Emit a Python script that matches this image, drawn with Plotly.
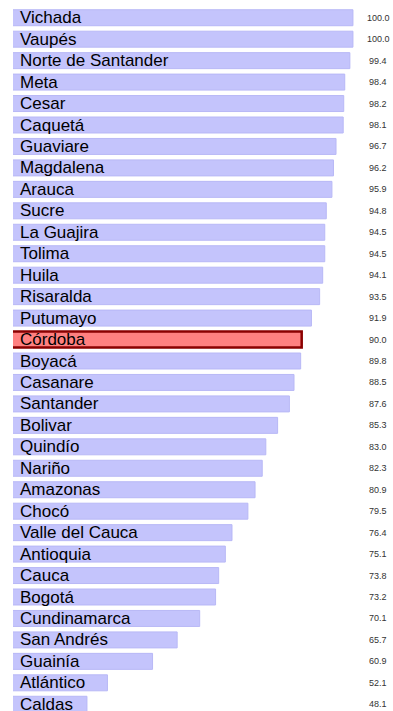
import plotly.graph_objects as go

departamentos = [
    "Vichada", "Vaupés", "Norte de Santander", "Meta", "Cesar", "Caquetá",
    "Guaviare", "Magdalena", "Arauca", "Sucre", "La Guajira", "Tolima",
    "Huila", "Risaralda", "Putumayo", "Córdoba", "Boyacá", "Casanare",
    "Santander", "Bolivar", "Quindío", "Nariño", "Amazonas", "Chocó",
    "Valle del Cauca", "Antioquia", "Cauca", "Bogotá", "Cundinamarca",
    "San Andrés", "Guainía", "Atlántico", "Caldas",
]
valores = [
    100.0, 100.0, 99.4, 98.4, 98.2, 98.1,
    96.7, 96.2, 95.9, 94.8, 94.5, 94.5,
    94.1, 93.5, 91.9, 90.0, 89.8, 88.5,
    87.6, 85.3, 83.0, 82.3, 80.9, 79.5,
    76.4, 75.1, 73.8, 73.2, 70.1,
    65.7, 60.9, 52.1, 48.1,
]
destacado = "Córdoba"

W, H = 393, 720
ML, MR, MT, MB = 13, 0, 7, 5
x_min = min(valores) * 0.7
px_per_unit = 5.125
x_max = x_min + (W - ML - MR) / px_per_unit

fill = ["#ff8080" if d == destacado else "#c4c4fc" for d in departamentos]
edge = ["#8b0000" if d == destacado else "#b8b8f6" for d in departamentos]
edge_w = [2.5 if d == destacado else 1 for d in departamentos]

fig = go.Figure(go.Bar(
    x=valores,
    y=departamentos,
    orientation="h",
    width=0.745,
    marker=dict(color=fill, line=dict(color=edge, width=edge_w)),
    hoverinfo="skip",
))

annotations = []
for d, v in zip(departamentos, valores):
    annotations.append(dict(
        x=x_min, y=d, xref="x", yref="y", text=d, showarrow=False,
        xanchor="left", xshift=5, yshift=0,
        font=dict(family="Liberation Sans, Arial, sans-serif", size=17, color="#000000"),
    ))
    annotations.append(dict(
        x=(378 - ML) / (W - ML - MR), y=d, xref="paper", yref="y",
        text=f"{v:.1f}", showarrow=False, xanchor="center",
        font=dict(family="Liberation Sans, Arial, sans-serif", size=9, color="#333333"),
    ))

fig.update_layout(
    width=W, height=H,
    margin=dict(l=ML, r=MR, t=MT, b=MB),
    paper_bgcolor="white", plot_bgcolor="white",
    showlegend=False,
    xaxis=dict(range=[x_min, x_max], visible=False, fixedrange=True),
    yaxis=dict(autorange=False, range=[len(departamentos) - 0.5, -0.5],
               visible=False, fixedrange=True,
               categoryorder="array", categoryarray=departamentos),
    annotations=annotations,
)

fig.write_html("out.html")
